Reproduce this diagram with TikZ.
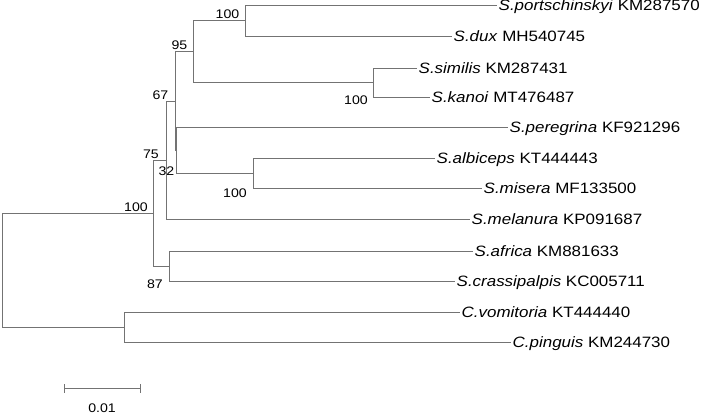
\documentclass[tikz,border=0pt]{standalone}
\usepackage{fontspec}
\setmainfont{Liberation Sans}[FakeStretch=1.13]
\begin{document}
\begin{tikzpicture}[x=1pt,y=-1pt,
  br/.style={draw=black!55,line width=0.8pt},
  leaf/.style={anchor=west,inner xsep=1.5pt,inner ysep=0pt,text height=10.7pt,text depth=0pt,font=\fontsize{15}{18}\selectfont},
  boot/.style={anchor=center,inner sep=0pt,text height=9pt,text depth=0pt,font=\fontsize{12.5}{15}\selectfont}]
\useasboundingbox (0,0) rectangle (705,416);
% leaves
\node[leaf] (l1) at (497,5) {\textit{S.portschinskyi} KM287570};
\node[leaf] (l2) at (452,36) {\textit{S.dux} MH540745};
\node[leaf] (l3) at (417,68) {\textit{S.similis} KM287431};
\node[leaf] (l4) at (430,97) {\textit{S.kanoi} MT476487};
\node[leaf] (l5) at (508,127) {\textit{S.peregrina} KF921296};
\node[leaf] (l6) at (435,158) {\textit{S.albiceps} KT444443};
\node[leaf] (l7) at (482,188) {\textit{S.misera} MF133500};
\node[leaf] (l8) at (470,219) {\textit{S.melanura} KP091687};
\node[leaf] (l9) at (473,251) {\textit{S.africa} KM881633};
\node[leaf] (l10) at (455,281) {\textit{S.crassipalpis} KC005711};
\node[leaf] (l11) at (460,312) {\textit{C.vomitoria} KT444440};
\node[leaf] (l12) at (511,342) {\textit{C.pinguis} KM244730};
% internal nodes
\coordinate (npd) at (245,20.5);
\coordinate (nsk) at (373,82.5);
\coordinate (n95) at (193,51.5);
\coordinate (nam) at (253,173);
\coordinate (n32) at (176,150);
\coordinate (n67) at (175,101);
\coordinate (n75) at (166,160);
\coordinate (n87) at (169,266);
\coordinate (nS) at (153,213);
\coordinate (nC) at (124,327);
\coordinate (root) at (2,270);
% branches
\draw[br] (npd) |- (l1.west);
\draw[br] (npd) |- (l2.west);
\draw[br] (nsk) |- (l3.west);
\draw[br] (nsk) |- (l4.west);
\draw[br] (n95) |- (npd);
\draw[br] (n95) |- (nsk);
\draw[br] (nam) |- (l6.west);
\draw[br] (nam) |- (l7.west);
\draw[br] (n32) |- (l5.west);
\draw[br] (n32) |- (nam);
\draw[br] (n67) |- (n95);
\draw[br] (n67) |- (n32);
\draw[br] (n75) |- (n67);
\draw[br] (n75) |- (l8.west);
\draw[br] (n87) |- (l9.west);
\draw[br] (n87) |- (l10.west);
\draw[br] (nS) |- (n75);
\draw[br] (nS) |- (n87);
\draw[br] (nC) |- (l11.west);
\draw[br] (nC) |- (l12.west);
\draw[br] (root) |- (nS);
\draw[br] (root) |- (nC);
% bootstrap values
\node[boot] (b1) at (227.5,14) {100};
\node[boot] (b2) at (179.5,44.5) {95};
\node[boot] (b3) at (160.5,95) {67};
\node[boot] (b4) at (151,154) {75};
\node[boot] (b5) at (166.5,171) {32};
\node[boot] (b6) at (235,192.5) {100};
\node[boot] (b7) at (136,207) {100};
\node[boot] (b8) at (155,284) {87};
\node[boot] (b9) at (356,100) {100};
% scale bar
\coordinate (sa) at (64,388);
\coordinate (sb) at (140,388);
\draw[br] (sa) -- (sb);
\draw[br] ([yshift=-4.5pt]sa) -- ([yshift=4.5pt]sa);
\draw[br] ([yshift=-4.5pt]sb) -- ([yshift=4.5pt]sb);
\node[boot] (sl) at (102,408) {0.01};
\end{tikzpicture}
\end{document}
